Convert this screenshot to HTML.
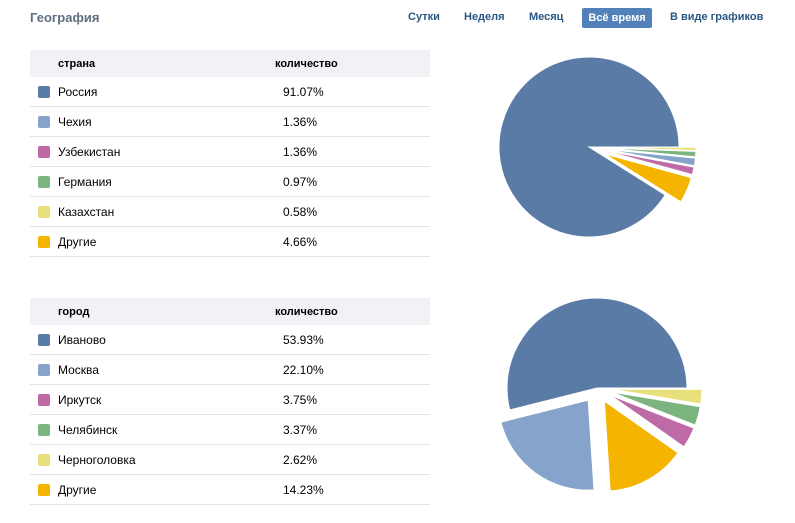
<!DOCTYPE html>
<html><head><meta charset="utf-8"><style>
body{margin:0;width:795px;height:523px;background:#fff;font-family:"Liberation Sans",sans-serif;position:relative;overflow:hidden}
.t{position:absolute;left:30px;top:10px;font-size:13px;font-weight:bold;color:#5f6f80}
.n{position:absolute;top:11px;font-size:11px;font-weight:bold;color:#2a5885}
.btn{position:absolute;left:582px;top:8px;width:70px;height:20px;background:#5181b8;border-radius:2px;color:#fff;font-size:11px;font-weight:bold;text-align:center;line-height:20px}
.tb{position:absolute;left:30px;width:400px}
.h{height:27px;background:#f0f2f5;font-size:11px;font-weight:bold;color:#000;position:relative}
.r{height:29px;border-bottom:1px solid #e2e4e8;position:relative;font-size:12px;color:#000}
.h span,.r span{position:absolute;top:50%;transform:translateY(-50%)}
.sw{position:absolute;left:8px;top:9px;width:12px;height:12px;border-radius:2px}
svg{position:absolute;left:0;top:0}
</style></head><body>
<div class="t">География</div>
<div class="n" style="left:408px">Сутки</div>
<div class="n" style="left:464px">Неделя</div>
<div class="n" style="left:529px">Месяц</div>
<div class="btn">Всё время</div>
<div class="n" style="left:670px">В виде графиков</div>

<div class="tb" style="top:50px">
<div class="h"><span style="left:28px">страна</span><span style="left:245px">количество</span></div>
<div class="r"><div class="sw" style="background:#5a7ba6"></div><span style="left:28px">Россия</span><span style="left:253px">91.07%</span></div>
<div class="r"><div class="sw" style="background:#85a3cb"></div><span style="left:28px">Чехия</span><span style="left:253px">1.36%</span></div>
<div class="r"><div class="sw" style="background:#bd6aa6"></div><span style="left:28px">Узбекистан</span><span style="left:253px">1.36%</span></div>
<div class="r"><div class="sw" style="background:#7bb47f"></div><span style="left:28px">Германия</span><span style="left:253px">0.97%</span></div>
<div class="r"><div class="sw" style="background:#e8e07a"></div><span style="left:28px">Казахстан</span><span style="left:253px">0.58%</span></div>
<div class="r"><div class="sw" style="background:#f4b400"></div><span style="left:28px">Другие</span><span style="left:253px">4.66%</span></div>
</div>

<div class="tb" style="top:298px">
<div class="h"><span style="left:28px">город</span><span style="left:245px">количество</span></div>
<div class="r"><div class="sw" style="background:#5a7ba6"></div><span style="left:28px">Иваново</span><span style="left:253px">53.93%</span></div>
<div class="r"><div class="sw" style="background:#85a3cb"></div><span style="left:28px">Москва</span><span style="left:253px">22.10%</span></div>
<div class="r"><div class="sw" style="background:#bd6aa6"></div><span style="left:28px">Иркутск</span><span style="left:253px">3.75%</span></div>
<div class="r"><div class="sw" style="background:#7bb47f"></div><span style="left:28px">Челябинск</span><span style="left:253px">3.37%</span></div>
<div class="r"><div class="sw" style="background:#e8e07a"></div><span style="left:28px">Черноголовка</span><span style="left:253px">2.62%</span></div>
<div class="r"><div class="sw" style="background:#f4b400"></div><span style="left:28px">Другие</span><span style="left:253px">14.23%</span></div>
</div>

<svg id="s" width="795" height="523"></svg>
<script>
var s=document.getElementById('s');
function pie(cx,cy,r,off0,data){
 var a=0;
 data.forEach(function(d,i){
  var a0=a,a1=a+d[0]/100*2*Math.PI;a=a1;
  var m=(a0+a1)/2,off=i?off0:0;
  var x=cx+off*Math.cos(m),y=cy-off*Math.sin(m);
  var p='M'+x+','+y+'L'+(x+r*Math.cos(a0))+','+(y-r*Math.sin(a0))+'A'+r+','+r+' 0 '+((a1-a0)>Math.PI?1:0)+' 0 '+(x+r*Math.cos(a1))+','+(y-r*Math.sin(a1))+'Z';
  var e=document.createElementNS('http://www.w3.org/2000/svg','path');
  e.setAttribute('d',p);e.setAttribute('fill',d[1]);e.setAttribute('stroke','#fff');e.setAttribute('stroke-width','1');
  s.appendChild(e);
 });
}
pie(589,147,90,17,[[91.07,'#5a7ba6'],[4.66,'#f4b400'],[1.36,'#bd6aa6'],[1.36,'#85a3cb'],[0.97,'#7bb47f'],[0.58,'#e8e07a']]);
pie(597,388,90,15,[[53.93,'#5a7ba6'],[22.10,'#85a3cb'],[14.23,'#f4b400'],[3.75,'#bd6aa6'],[3.37,'#7bb47f'],[2.62,'#e8e07a']]);
</script>
</body></html>
